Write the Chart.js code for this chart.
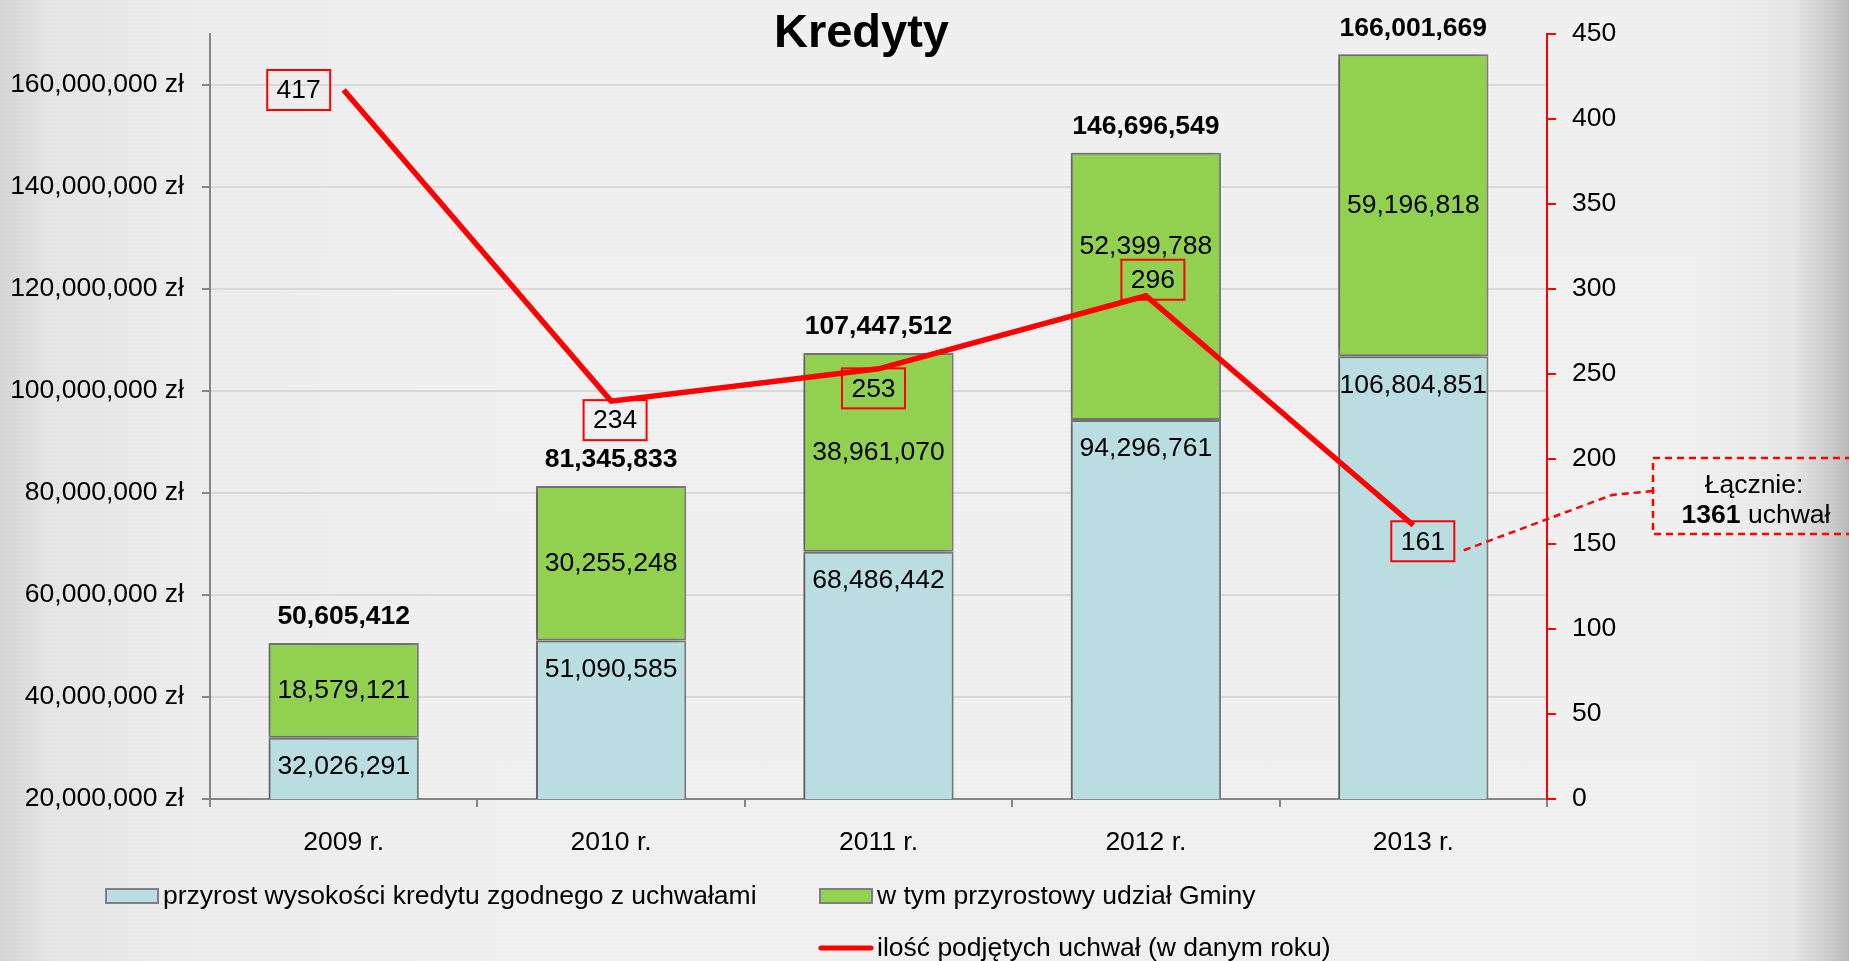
<!DOCTYPE html>
<html>
<head>
<meta charset="utf-8">
<script src="https://cdn.jsdelivr.net/npm/chart.js@4.4.1/dist/chart.umd.min.js"></script>
<style>
  html, body { margin: 0; padding: 0; }
  body {
    width: 1849px; height: 961px; overflow: hidden;
    background:
      repeating-linear-gradient(0deg, rgba(0,0,0,0.012) 0px, rgba(0,0,0,0.012) 2px, rgba(255,255,255,0) 2px, rgba(255,255,255,0) 4px),
      linear-gradient(90deg, #d6d6d6 0px, #e6e6e6 50px, #eeeeee 200px, #f1f1f1 500px, #f1f1f1 1700px, #e8e8e8 1790px, #c9c9c9 1835px, #b8b8b8 1849px);
  }
  #wrap { position: absolute; left: 0; top: 0; width: 1849px; height: 961px; }
</style>
</head>
<body>
<div id="wrap"><canvas id="c"></canvas></div>
<script>
// ---- data ----
const chartTitle = 'Kredyty';
const categories = ['2009 r.', '2010 r.', '2011 r.', '2012 r.', '2013 r.'];
const seriesNames = [
  'przyrost wysokości kredytu zgodnego z uchwałami',
  'w tym przyrostowy udział Gminy',
  'ilość podjętych uchwał (w danym roku)'
];
const przyrostKredytu = [32026291, 51090585, 68486442, 94296761, 106804851];
const udzialGminy = [18579121, 30255248, 38961070, 52399788, 59196818];
const iloscUchwal = [417, 234, 253, 296, 161];
const leftTickValues = [20000000, 40000000, 60000000, 80000000, 100000000, 120000000, 140000000, 160000000];
const leftAxisBounds = [20000000, 170000000];
const rightTickValues = [0, 50, 100, 150, 200, 250, 300, 350, 400, 450];
const calloutLines = ['Łącznie:', 'uchwał'];

const totals = przyrostKredytu.map((v, i) => v + udzialGminy[i]);
const totalUchwal = iloscUchwal.reduce((a, b) => a + b, 0);

const FONT = '"Liberation Sans", Arial, Helvetica, sans-serif';
const FS = 26.5;
const fmt = v => v.toLocaleString('en-US');
const BLUE = '#badde2', GREEN = '#92d050', BORDER = '#7f7f7f', RED = '#ff0000';

// label placement tweaks (pixels)
const greenShift = [0, 0, 0, -40, 0];
const lineBoxOffset = [[-45, 0], [4, 19], [-5, 19.5], [7, -16], [9.5, 16]];

const shadowPlugin = {
  id: 'barShadow',
  beforeDatasetDraw(chart, args) {
    if (args.index > 1) return;
    const ctx = chart.ctx;
    ctx.save();
    ctx.shadowColor = 'rgba(0,0,0,0.35)';
    ctx.shadowBlur = 7;
    ctx.shadowOffsetX = -3;
    ctx.shadowOffsetY = 0;
  },
  afterDatasetDraw(chart, args) {
    if (args.index > 1) return;
    chart.ctx.restore();
  }
};

const labelPlugin = {
  id: 'labels',
  afterDatasetsDraw(chart) {
    const ctx = chart.ctx;
    const mBlue = chart.getDatasetMeta(0), mGreen = chart.getDatasetMeta(1), mLine = chart.getDatasetMeta(2);
    ctx.save();
    ctx.textAlign = 'center';
    ctx.textBaseline = 'middle';
    ctx.fillStyle = '#000';
    ctx.font = FS + 'px ' + FONT;
    mBlue.data.forEach((el, i) => ctx.fillText(fmt(przyrostKredytu[i]), el.x, el.y + 29));
    mGreen.data.forEach((el, i) => ctx.fillText(fmt(udzialGminy[i]), el.x, (el.y + el.base) / 2 + greenShift[i]));
    ctx.font = 'bold ' + FS + 'px ' + FONT;
    mGreen.data.forEach((el, i) => ctx.fillText(fmt(totals[i]), el.x, el.y - 26));

    // line value boxes
    ctx.font = FS + 'px ' + FONT;
    ctx.strokeStyle = RED;
    ctx.lineWidth = 2;
    const bw = 63, bh = 40;
    mLine.data.forEach((el, i) => {
      const cx = el.x + lineBoxOffset[i][0], cy = el.y + lineBoxOffset[i][1];
      ctx.strokeRect(cx - bw / 2, cy - bh / 2, bw, bh);
      ctx.fillText(String(iloscUchwal[i]), cx, cy + 1);
    });

    // callout connector + box
    const li = mLine.data.length - 1;
    const last = mLine.data[li];
    const sx = last.x + lineBoxOffset[li][0] + 41, sy = last.y + lineBoxOffset[li][1] + 9;
    ctx.setLineDash([7, 5]);
    ctx.lineWidth = 2.5;
    ctx.beginPath();
    ctx.moveTo(sx, sy);
    ctx.lineTo(1612, 495);
    ctx.lineTo(1653, 491);
    ctx.stroke();
    ctx.strokeRect(1653, 458, 206, 76);
    ctx.setLineDash([]);
    ctx.fillText(calloutLines[0], 1754, 486);
    ctx.font = 'bold ' + FS + 'px ' + FONT;
    const boldTxt = String(totalUchwal) + ' ';
    const wB = ctx.measureText(boldTxt).width;
    ctx.font = FS + 'px ' + FONT;
    const wN = ctx.measureText(calloutLines[1]).width;
    const x0 = 1756 - (wB + wN) / 2;
    ctx.textAlign = 'left';
    ctx.font = 'bold ' + FS + 'px ' + FONT;
    ctx.fillText(boldTxt, x0, 516);
    ctx.font = FS + 'px ' + FONT;
    ctx.fillText(calloutLines[1], x0 + wB, 516);
    ctx.restore();
  },
  afterDraw(chart) {
    const ctx = chart.ctx;
    ctx.save();
    // title
    ctx.fillStyle = '#000';
    ctx.textAlign = 'center';
    ctx.textBaseline = 'alphabetic';
    ctx.font = 'bold 47px ' + FONT;
    ctx.fillText(chartTitle, 861.5, 47);
    // legend
    ctx.font = FS + 'px ' + FONT;
    ctx.textAlign = 'left';
    ctx.textBaseline = 'middle';
    const ds = chart.data.datasets;
    const box = (x, y, c) => {
      ctx.fillStyle = c; ctx.fillRect(x, y - 7, 52, 14);
      ctx.strokeStyle = BORDER; ctx.lineWidth = 2; ctx.strokeRect(x, y - 7, 52, 14);
    };
    box(106, 896, BLUE);
    ctx.fillStyle = '#000'; ctx.fillText(ds[0].label, 163, 897);
    box(820, 896, GREEN);
    ctx.fillStyle = '#000'; ctx.fillText(ds[1].label, 877, 897);
    ctx.strokeStyle = RED; ctx.lineWidth = 5; ctx.lineCap = 'round';
    ctx.beginPath(); ctx.moveTo(821, 948); ctx.lineTo(871, 948); ctx.stroke();
    ctx.fillStyle = '#000'; ctx.fillText(ds[2].label, 877, 949);
    ctx.restore();
  }
};

new Chart(document.getElementById('c'), {
  data: {
    labels: categories,
    datasets: [
      { type: 'bar', label: seriesNames[0], data: przyrostKredytu, backgroundColor: BLUE, borderColor: BORDER,
        borderWidth: 2, borderSkipped: false, yAxisID: 'y', order: 2, barPercentage: 0.562, categoryPercentage: 1 },
      { type: 'bar', label: seriesNames[1], data: udzialGminy, backgroundColor: GREEN, borderColor: BORDER,
        borderWidth: 2, borderSkipped: false, yAxisID: 'y', order: 2, barPercentage: 0.562, categoryPercentage: 1 },
      { type: 'line', label: seriesNames[2], data: iloscUchwal, borderColor: RED, borderWidth: 5.5,
        pointRadius: 0, tension: 0, fill: false, yAxisID: 'y1', order: 0 }
    ]
  },
  options: {
    responsive: true,
    maintainAspectRatio: false,
    animation: false,
    layout: { padding: { top: 30, left: 0, right: 0, bottom: 0 } },
    plugins: { legend: { display: false }, title: { display: false }, tooltip: { enabled: false } },
    scales: {
      x: {
        stacked: true,
        offset: true,
        grid: { display: true, drawOnChartArea: false, drawTicks: true, tickLength: 8, color: '#868686', lineWidth: 2, offset: true },
        border: { color: '#868686', width: 2 },
        ticks: { color: '#000', font: { size: FS, family: FONT }, padding: 20 },
        afterFit: s => { s.height = 162; }
      },
      y: {
        stacked: true,
        position: 'left',
        min: leftAxisBounds[0], max: leftAxisBounds[1],
        afterBuildTicks: s => { s.ticks = leftTickValues.map(v => ({ value: v })); },
        ticks: { color: '#000', font: { size: FS, family: FONT }, padding: 18, callback: v => fmt(v) + ' zł' },
        grid: { color: '#d9d9d9', lineWidth: 2, tickColor: '#868686', tickLength: 8, tickWidth: 2 },
        border: { color: '#868686', width: 2 },
        afterFit: s => { s.width = 210; }
      },
      y1: {
        stacked: false,
        position: 'right',
        min: rightTickValues[0], max: rightTickValues[rightTickValues.length - 1],
        afterBuildTicks: s => { s.ticks = rightTickValues.map(v => ({ value: v })); },
        ticks: { color: '#000', font: { size: FS, family: FONT }, padding: 16 },
        grid: { drawOnChartArea: false, color: RED, lineWidth: 2, tickLength: 9 },
        border: { color: RED, width: 2 },
        afterFit: s => { s.width = 302; }
      }
    }
  },
  plugins: [shadowPlugin, labelPlugin]
});
</script>
</body>
</html>
